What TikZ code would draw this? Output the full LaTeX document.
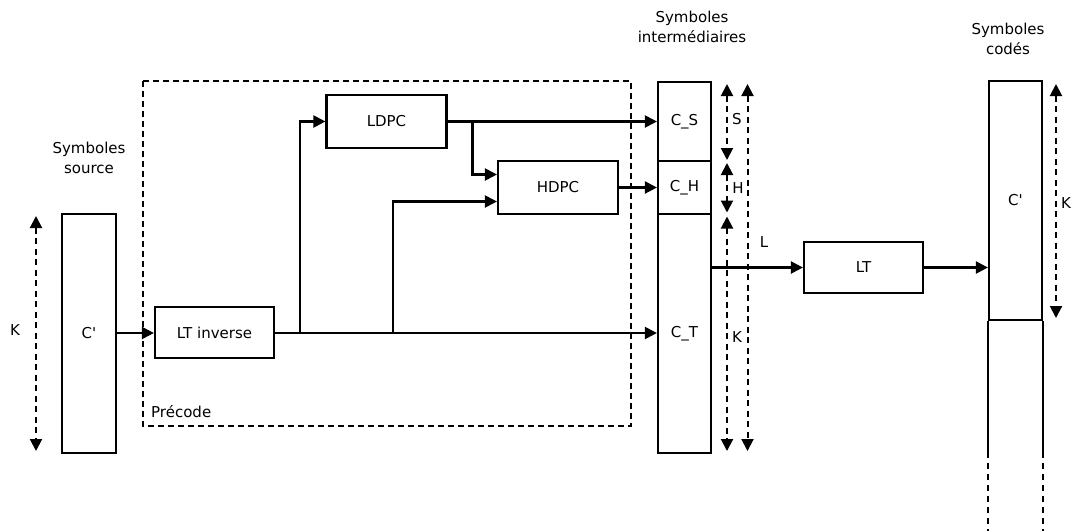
\documentclass[tikz,border=0pt]{standalone}
\usepackage{fontspec}
\setmainfont{DejaVu Sans}[Ligatures=TeXOff]
\usetikzlibrary{arrows.meta,calc}
\begin{document}
\begin{tikzpicture}[x=1pt,y=-1pt,
  font=\fontsize{15}{20.5}\selectfont,
  box/.style={draw, line width=2.2pt, inner sep=0pt, align=center},
  solid line/.style={line width=2.2pt},
  arr/.style={line width=2.2pt, -{Triangle[length=12pt,width=12pt]}},
  darr/.style={line width=2pt, dash pattern=on 6pt off 4.5pt,
     {Triangle[length=12pt,width=12pt]}-{Triangle[length=12pt,width=12pt]}},
  lbl/.style={inner sep=0pt, align=center}]
\useasboundingbox (0,0) rectangle (1072,531);

% precode frame
\draw[line width=1.6pt, dash pattern=on 6pt off 4pt] (143,81) rectangle (631,426);
\node[lbl, anchor=west] (prec) at (151,412) {Précode};

% source column
\node[box, minimum width=54pt, minimum height=239pt] (src) at (89,333.5) {C'};
\node[lbl] (srclab) at (89,158) {Symboles\\source};
\coordinate (kA) at (36,216);
\coordinate (kB) at (36,451);
\draw[darr] (kA) -- (kB);
\node[lbl] (klab) at (15,330) {K};

% blocks
\node[box, minimum width=119pt, minimum height=51pt] (ltinv) at (214.5,332.5) {LT inverse};
\node[box, minimum width=120pt, minimum height=53pt] (ldpc) at (386.5,121.5) {LDPC};
\node[box, minimum width=120pt, minimum height=53pt] (hdpc) at (558,187.5) {HDPC};

% intermediate column
\node[box, minimum width=53pt, minimum height=79pt] (cs) at (684.5,121.5) {C\_S};
\node[box, minimum width=53pt, minimum height=53pt] (ch) at (684.5,187.5) {C\_H};
\node[box, minimum width=53pt, minimum height=239pt] (ct) at (684.5,333.5) {C\_T};
\node[lbl] (intlab) at (692,27) {Symboles\\intermédiaires};

% dimension arrows
\coordinate (s1) at (727,84);
\coordinate (s2) at (727,160);
\coordinate (h1) at (727,163);
\coordinate (h2) at (727,212.5);
\coordinate (t1) at (727,216.5);
\coordinate (t2) at (727,451);
\coordinate (l1) at (747.5,84);
\coordinate (l2) at (747.5,451);
\draw[darr] (s1) -- (s2);
\draw[darr] (h1) -- (h2);
\draw[darr] (t1) -- (t2);
\draw[darr] (l1) -- (l2);
\node[lbl] (slab) at (737,119) {S};
\node[lbl] (hlab) at (738,188) {H};
\node[lbl] (tlab) at (737,337) {K};
\node[lbl] (llab) at (764,242) {L};

% LT and coded column
\node[box, minimum width=119pt, minimum height=51pt] (lt) at (863.5,267.5) {LT};
\node[box, minimum width=53pt, minimum height=239pt] (cod) at (1015.5,200.5) {C'};
\node[lbl] (codlab) at (1008,39) {Symboles\\codés};
\draw[solid line] (cod.south west) -- ++(0,137) coordinate (cw);
\draw[solid line] (cod.south east) -- ++(0,137) coordinate (ce);
\draw[line width=2pt, dash pattern=on 6pt off 5pt] ($(cw)+(0,5)$) -- (cw |- 0,531);
\draw[line width=2pt, dash pattern=on 6pt off 5pt] ($(ce)+(0,5)$) -- (ce |- 0,531);
\coordinate (k1) at (1056,84);
\coordinate (k2) at (1056,318);
\draw[darr] (k1) -- (k2);
\node[lbl] (k2lab) at (1066,203) {K};

% connectors
\coordinate (j1) at (300,333);
\coordinate (j2) at (393,333);
\coordinate (j3) at (472.5,121.5);
\draw[arr] (src.east |- 0,333) -- (ltinv.west |- 0,333);
\draw[arr] (ltinv.east |- 0,333) -- (ct.west |- 0,333);
\draw[arr] (j1) |- (ldpc.west);
\draw[arr] (j2) |- ($(hdpc.west)+(0,14)$);
\draw[arr] (ldpc.east) -- (ldpc.east -| cs.west);
\draw[arr] (j3) |- ($(hdpc.west)+(0,-13)$);
\draw[arr] (hdpc.east) -- (hdpc.east -| ch.west);
\draw[arr] (ct.east |- lt.west) -- (lt.west);
\draw[arr] (lt.east) -- (lt.east -| cod.west);
\end{tikzpicture}
\end{document}
